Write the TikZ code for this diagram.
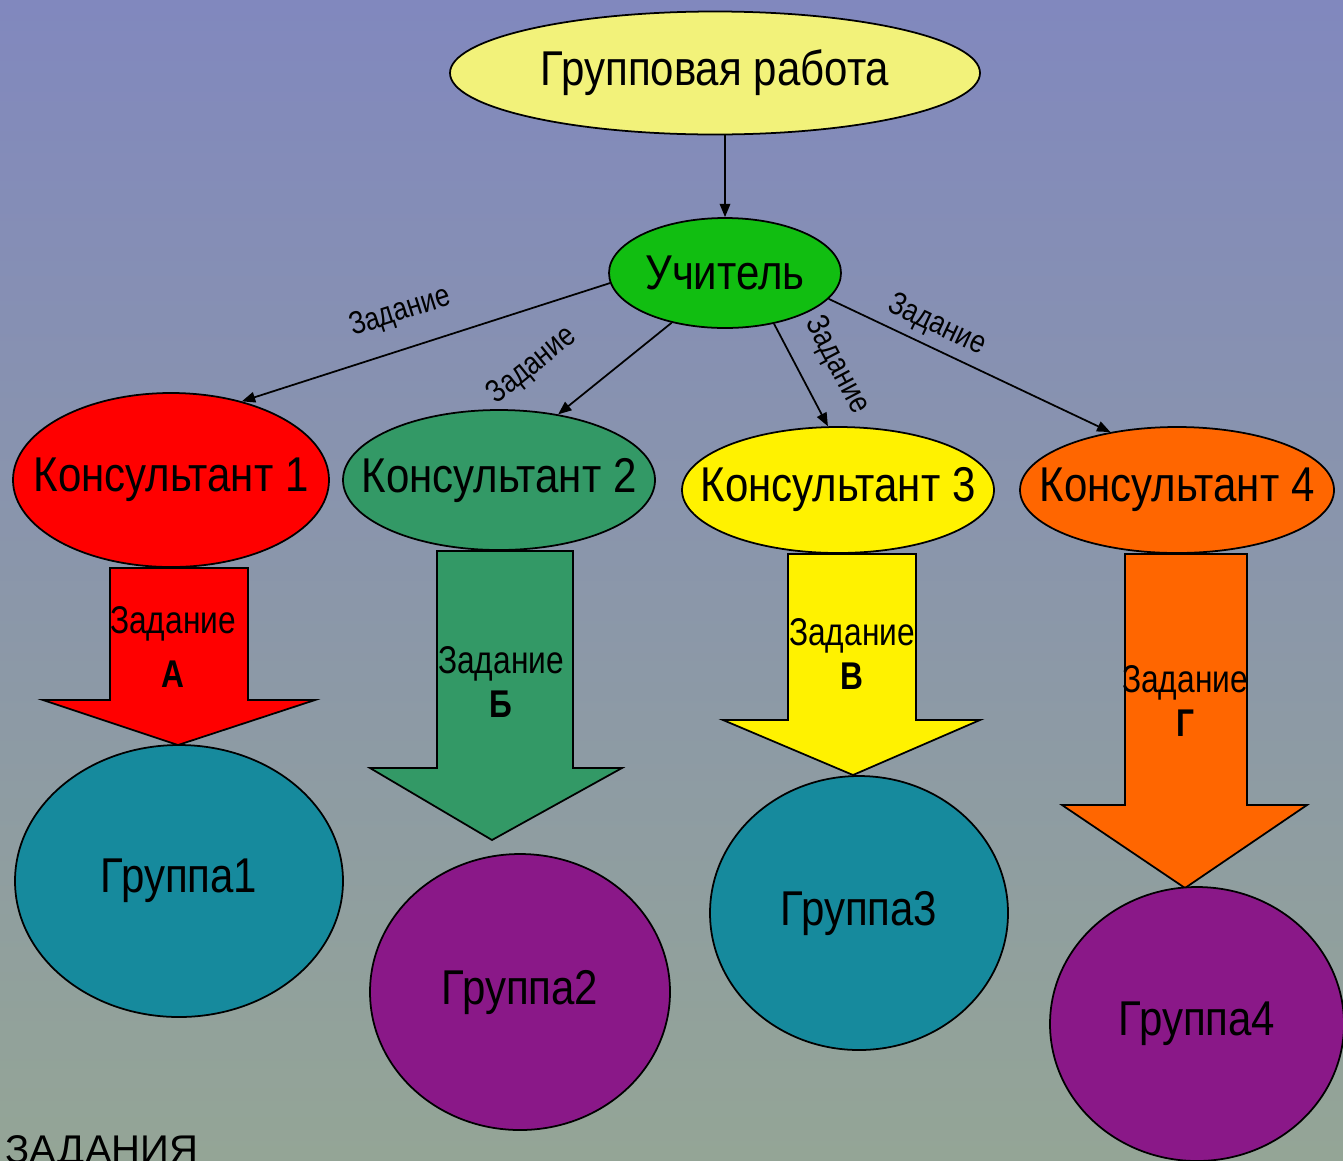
\documentclass[tikz,border=0pt]{standalone}
\usepackage{fontspec}
\setmainfont{Liberation Sans}
\newfontfamily\narrowfont[FakeStretch=0.82]{Liberation Sans}
\newfontfamily\bubblefont[FakeStretch=0.86]{Liberation Sans}
\usetikzlibrary{shapes.geometric,arrows.meta,backgrounds}

\definecolor{bgtop}{RGB}{129,136,190}
\definecolor{bgbottom}{RGB}{148,165,150}
\definecolor{workyellow}{RGB}{242,242,122}
\definecolor{teachergreen}{RGB}{17,190,17}
\definecolor{seagreen}{RGB}{51,153,102}
\definecolor{orangeK}{RGB}{255,102,0}
\definecolor{tealG}{RGB}{22,138,157}
\definecolor{purpleG}{RGB}{138,24,136}

% text that does not widen its ellipse
\newcommand{\btext}[1]{\makebox[0pt]{#1}}

\begin{document}
\begin{tikzpicture}[
    bubble/.style={ellipse, draw=black, line width=0.5pt, inner sep=0pt,
        font=\bubblefont\fontsize{13.9}{16}\selectfont},
    task/.style={-{Triangle[length=3.8pt,width=3pt]}, line width=0.5pt},
    tasklabel/.style={sloped, inner sep=1pt, font=\narrowfont\fontsize{9.1}{11}\selectfont},
    bigarrow/.style={draw=black, line width=0.5pt},
    arrowtext/.style={align=center, inner sep=0pt, font=\narrowfont\fontsize{11}{12.4}\selectfont}
]
    \useasboundingbox (0,0) rectangle (13.43,-11.60);

    % Top and teacher
    \node[bubble, fill=workyellow, minimum width=5.30cm, minimum height=1.23cm] (work) at (7.15,-0.73) {\btext{Групповая работа}};
    \node[bubble, fill=teachergreen, minimum width=2.32cm, minimum height=1.10cm] (teacher) at (7.25,-2.73) {\btext{Учитель}};
    \draw[task] (work.south -| teacher.north) -- (teacher.north);

    % Consultants
    \node[bubble, fill=red, minimum width=3.16cm, minimum height=1.74cm] (k1) at (1.71,-4.80) {\btext{Консультант 1}};
    \node[bubble, fill=seagreen, minimum width=3.12cm, minimum height=1.40cm] (k2) at (4.99,-4.80) {\btext{Консультант 2}};
    \node[bubble, fill=yellow, minimum width=3.12cm, minimum height=1.26cm] (k3) at (8.38,-4.90) {\btext{Консультант 3}};
    \node[bubble, fill=orangeK, minimum width=3.14cm, minimum height=1.26cm] (k4) at (11.77,-4.90) {\btext{Консультант 4}};

    % Teacher gives tasks
    \foreach \k/\s/\e/\p/\d in {k1/185/48/0.54/5pt, k2/223/48/0.93/10pt, k3/314/99/0.57/5pt, k4/346/139/0.35/1pt}
        \draw[task] (teacher.\s) -- node[tasklabel, pos=\p, above=\d] {Задание} (\k.\e);

    % Groups
    \node[bubble, fill=tealG, minimum width=3.28cm, minimum height=2.72cm] (g1) at (1.79,-8.81) {\btext{Группа1}};
    \node[bubble, fill=purpleG, minimum width=3.00cm, minimum height=2.76cm] (g2) at (5.20,-9.92) {\btext{Группа2}};
    \node[bubble, fill=tealG, minimum width=2.98cm, minimum height=2.74cm] (g3) at (8.59,-9.13) {\btext{Группа3}};
    \node[bubble, fill=purpleG, minimum width=2.94cm, minimum height=2.74cm] (g4) at (11.97,-10.24) {\btext{Группа4}};

    % Task texts in the big arrows
    \node[arrowtext] (ta) at (1.73,-6.47) {Задание\\[0.25em]\textbf{А}};
    \node[arrowtext] (tb) at (5.01,-6.82) {Задание\\\textbf{Б}};
    \node[arrowtext] (tc) at (8.52,-6.54) {Задание\\\textbf{В}};
    \node[arrowtext] (td) at (11.85,-7.01) {Задание\\\textbf{Г}};

    \node[anchor=base west, inner sep=0pt, font=\fontsize{11.4}{13}\selectfont] (caption) at (0.05,-11.63) {ЗАДАНИЯ};

    \begin{pgfonlayer}{background}
        \shade[top color=bgtop, bottom color=bgbottom] (0,0) rectangle (13.43,-11.60);
        % Big arrows from consultants to groups
        \foreach \k/\sl/\sr/\hl/\hr/\neck/\tx/\ty/\col in {
            k1/1.10/2.48/0.43/3.15/-7.00/1.78/-7.45/red,
            k2/4.37/5.73/3.70/6.22/-7.68/4.92/-8.40/seagreen,
            k3/7.88/9.16/7.23/9.80/-7.20/8.53/-7.75/yellow,
            k4/11.25/12.47/10.62/13.07/-8.05/11.85/-8.88/orangeK}
            \draw[bigarrow, fill=\col] (\sl,0 |- \k.south) -- (\sl,\neck) -- (\hl,\neck) -- (\tx,\ty)
                -- (\hr,\neck) -- (\sr,\neck) -- (\sr,0 |- \k.south) -- cycle;
    \end{pgfonlayer}
\end{tikzpicture}
\end{document}
